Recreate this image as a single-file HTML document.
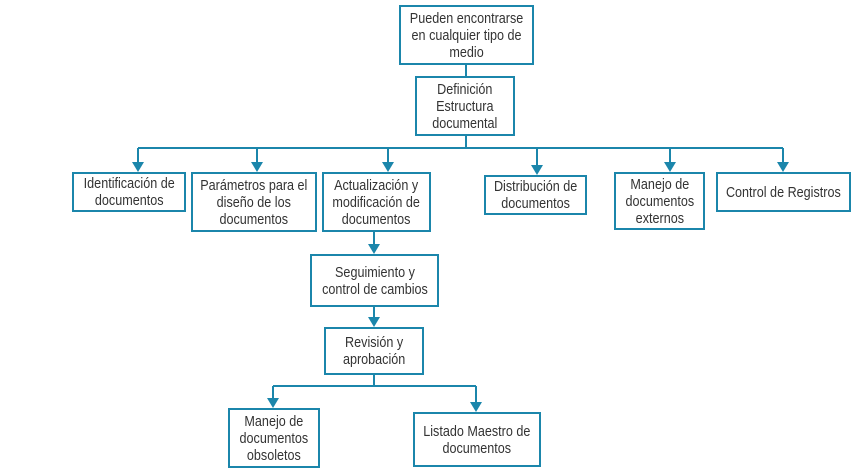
<!DOCTYPE html>
<html><head><meta charset="utf-8"><style>
body{margin:0;width:863px;height:470px;background:#fff;position:relative;overflow:hidden}
.b{position:absolute;box-sizing:border-box;border:2px solid #1b86ab;display:flex;align-items:center;justify-content:center;text-align:center;font-family:"Liberation Sans",sans-serif;font-size:15px;line-height:17px;color:#333;background:#fff;white-space:nowrap}
.b span{display:inline-block;transform:scaleX(0.84)}
svg{position:absolute;left:0;top:0}
</style></head><body>
<svg width="863" height="470">
<g stroke="#1b86ab" stroke-width="2" fill="none">
<line x1="466" y1="65" x2="466" y2="76"/>
<line x1="466" y1="136" x2="466" y2="148"/>
<line x1="138" y1="148" x2="783" y2="148"/>
<line x1="138" y1="148" x2="138" y2="163"/>
<line x1="257" y1="148" x2="257" y2="163"/>
<line x1="388" y1="148" x2="388" y2="163"/>
<line x1="537" y1="148" x2="537" y2="166"/>
<line x1="670" y1="148" x2="670" y2="163"/>
<line x1="783" y1="148" x2="783" y2="163"/>
<line x1="374" y1="231" x2="374" y2="246"/>
<line x1="374" y1="306" x2="374" y2="319"/>
<line x1="374" y1="374" x2="374" y2="386"/>
<line x1="273" y1="386" x2="476" y2="386"/>
<line x1="273" y1="386" x2="273" y2="400"/>
<line x1="476" y1="386" x2="476" y2="404"/>
</g>
<g fill="#1b86ab">
<polygon points="132,162 144,162 138,172"/>
<polygon points="251,162 263,162 257,172"/>
<polygon points="382,162 394,162 388,172"/>
<polygon points="531,165 543,165 537,175"/>
<polygon points="664,162 676,162 670,172"/>
<polygon points="777,162 789,162 783,172"/>
<polygon points="368,244 380,244 374,254"/>
<polygon points="368,317 380,317 374,327"/>
<polygon points="267,398 279,398 273,408"/>
<polygon points="470,402 482,402 476,412"/>
</g>
</svg>
<div class="b" style="left:399px;top:5px;width:135px;height:60px"><span>Pueden encontrarse<br>en cualquier tipo de<br>medio</span></div>
<div class="b" style="left:415px;top:76px;width:100px;height:60px"><span>Definición<br>Estructura<br>documental</span></div>
<div class="b" style="left:72px;top:172px;width:114px;height:40px"><span>Identificación de<br>documentos</span></div>
<div class="b" style="left:191px;top:172px;width:126px;height:60px"><span>Parámetros para el<br>diseño de los<br>documentos</span></div>
<div class="b" style="left:322px;top:172px;width:109px;height:60px"><span>Actualización y<br>modificación de<br>documentos</span></div>
<div class="b" style="left:484px;top:175px;width:103px;height:40px"><span>Distribución de<br>documentos</span></div>
<div class="b" style="left:614px;top:172px;width:91px;height:58px"><span>Manejo de<br>documentos<br>externos</span></div>
<div class="b" style="left:716px;top:172px;width:135px;height:40px"><span>Control de Registros</span></div>
<div class="b" style="left:310px;top:254px;width:129px;height:53px"><span>Seguimiento y<br>control de cambios</span></div>
<div class="b" style="left:324px;top:327px;width:100px;height:48px"><span>Revisión y<br>aprobación</span></div>
<div class="b" style="left:228px;top:408px;width:92px;height:60px"><span>Manejo de<br>documentos<br>obsoletos</span></div>
<div class="b" style="left:413px;top:412px;width:128px;height:55px"><span>Listado Maestro de<br>documentos</span></div>
</body></html>
